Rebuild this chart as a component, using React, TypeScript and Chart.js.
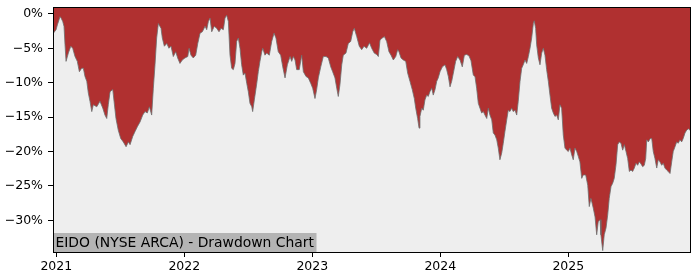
import { useEffect, useRef } from "react";
import { Chart, registerables } from "chart.js";

Chart.register(...registerables);

// Dates as decimal years
const dates: number[] = [
  2020.977, 2020.998, 2021.008, 2021.029, 2021.037, 2021.05, 2021.06, 2021.068, 2021.076, 2021.094,
  2021.113, 2021.128, 2021.146, 2021.164, 2021.18, 2021.198, 2021.211, 2021.224, 2021.238, 2021.25,
  2021.263, 2021.277, 2021.289, 2021.316, 2021.341, 2021.363, 2021.38, 2021.394, 2021.406, 2021.42,
  2021.441, 2021.451, 2021.466, 2021.484, 2021.503, 2021.523, 2021.545, 2021.563, 2021.576, 2021.597,
  2021.615, 2021.633, 2021.654, 2021.675, 2021.693, 2021.711, 2021.727, 2021.745, 2021.758, 2021.771,
  2021.784, 2021.797, 2021.802, 2021.818, 2021.828, 2021.844, 2021.863, 2021.88, 2021.896, 2021.914,
  2021.933, 2021.948, 2021.966, 2021.984, 2022.005, 2022.027, 2022.037, 2022.052, 2022.07, 2022.089,
  2022.105, 2022.123, 2022.141, 2022.162, 2022.175, 2022.188, 2022.201, 2022.214, 2022.234, 2022.253,
  2022.271, 2022.287, 2022.305, 2022.318, 2022.331, 2022.344, 2022.357, 2022.37, 2022.383, 2022.396,
  2022.409, 2022.422, 2022.435, 2022.448, 2022.461, 2022.474, 2022.488, 2022.5, 2022.513, 2022.527,
  2022.534, 2022.547, 2022.566, 2022.578, 2022.591, 2022.605, 2022.613, 2022.63, 2022.644, 2022.664,
  2022.683, 2022.701, 2022.716, 2022.734, 2022.753, 2022.769, 2022.787, 2022.805, 2022.826, 2022.839,
  2022.852, 2022.865, 2022.878, 2022.898, 2022.917, 2022.93, 2022.951, 2022.969, 2022.988, 2023.003,
  2023.021, 2023.034, 2023.047, 2023.066, 2023.086, 2023.107, 2023.125, 2023.144, 2023.159, 2023.177,
  2023.191, 2023.203, 2023.216, 2023.23, 2023.242, 2023.263, 2023.281, 2023.3, 2023.316, 2023.328,
  2023.347, 2023.367, 2023.386, 2023.404, 2023.425, 2023.447, 2023.464, 2023.484, 2023.503, 2023.516,
  2023.529, 2023.547, 2023.563, 2023.581, 2023.599, 2023.615, 2023.633, 2023.652, 2023.667, 2023.677,
  2023.693, 2023.711, 2023.73, 2023.745, 2023.763, 2023.781, 2023.797, 2023.808, 2023.823, 2023.834,
  2023.841, 2023.855, 2023.867, 2023.88, 2023.894, 2023.906, 2023.919, 2023.933, 2023.945, 2023.959,
  2023.972, 2023.984, 2023.998, 2024.016, 2024.037, 2024.05, 2024.063, 2024.076, 2024.089, 2024.102,
  2024.12, 2024.136, 2024.154, 2024.172, 2024.188, 2024.206, 2024.224, 2024.24, 2024.258, 2024.271,
  2024.284, 2024.297, 2024.31, 2024.323, 2024.336, 2024.349, 2024.363, 2024.375, 2024.388, 2024.402,
  2024.414, 2024.427, 2024.441, 2024.453, 2024.466, 2024.48, 2024.492, 2024.505, 2024.519, 2024.531,
  2024.544, 2024.558, 2024.57, 2024.584, 2024.597, 2024.609, 2024.623, 2024.636, 2024.648, 2024.662,
  2024.675, 2024.688, 2024.701, 2024.714, 2024.727, 2024.734, 2024.745, 2024.753, 2024.766, 2024.779,
  2024.792, 2024.805, 2024.818, 2024.831, 2024.844, 2024.857, 2024.87, 2024.883, 2024.896, 2024.909,
  2024.922, 2024.935, 2024.948, 2024.961, 2024.974, 2024.988, 2025.0, 2025.013, 2025.027, 2025.039,
  2025.052, 2025.066, 2025.078, 2025.091, 2025.105, 2025.117, 2025.136, 2025.152, 2025.164, 2025.177,
  2025.195, 2025.209, 2025.222, 2025.234, 2025.248, 2025.255, 2025.269, 2025.281, 2025.295, 2025.308,
  2025.32, 2025.334, 2025.347, 2025.359, 2025.373, 2025.386, 2025.398, 2025.412, 2025.425, 2025.438,
  2025.451, 2025.464, 2025.477, 2025.49, 2025.503, 2025.516, 2025.529, 2025.542, 2025.555, 2025.568,
  2025.581, 2025.594, 2025.605, 2025.613, 2025.625, 2025.641, 2025.652, 2025.664, 2025.677, 2025.691,
  2025.703, 2025.716, 2025.73, 2025.742, 2025.755, 2025.769, 2025.781, 2025.795, 2025.808, 2025.82,
  2025.834, 2025.847, 2025.859, 2025.873, 2025.886, 2025.898, 2025.912, 2025.925, 2025.938, 2025.951,
];

// Drawdown in percent
const drawdown: number[] = [
  -2.8, -2.3, -1.6, -0.4, -0.6, -1.1, -1.8, -4.5, -6.9, -5.7,
  -4.7, -5.0, -6.2, -6.9, -8.4, -7.9, -7.9, -9.1, -9.8, -11.5,
  -12.7, -14.2, -13.2, -13.5, -12.7, -13.7, -14.7, -15.2, -13.2, -11.3,
  -11.0, -12.7, -15.2, -16.9, -18.1, -18.6, -19.3, -18.6, -19.0, -17.8,
  -17.1, -16.4, -15.7, -14.7, -14.2, -14.4, -13.5, -14.7, -10.8, -7.4,
  -3.5, -1.4, -1.4, -2.1, -3.5, -4.7, -4.3, -5.0, -4.7, -6.2,
  -5.5, -6.4, -7.2, -6.7, -6.4, -6.2, -5.0, -6.0, -6.4, -6.0,
  -4.3, -2.8, -2.6, -1.8, -2.3, -1.1, -0.6, -2.6, -1.8, -2.1,
  -2.6, -2.1, -2.3, -0.6, -0.2, -1.1, -6.0, -7.9, -8.1, -7.2,
  -4.0, -3.5, -5.0, -7.4, -8.9, -8.6, -10.1, -11.3, -13.0, -13.5,
  -14.2, -12.5, -10.1, -8.4, -6.9, -5.5, -5.0, -6.0, -5.7, -6.0,
  -4.0, -2.8, -3.5, -5.5, -6.0, -7.7, -9.3, -7.4, -6.2, -6.9,
  -6.2, -6.7, -8.1, -8.1, -6.0, -8.4, -9.1, -9.3, -10.1, -10.8,
  -12.3, -11.0, -9.3, -7.7, -6.2, -6.2, -6.4, -7.7, -8.4, -9.3,
  -10.8, -12.0, -10.3, -7.4, -6.0, -5.7, -4.3, -4.0, -2.6, -2.1,
  -3.3, -4.7, -5.2, -4.7, -5.0, -4.2, -5.0, -5.7, -5.9, -6.2,
  -3.8, -3.5, -3.3, -4.0, -5.5, -6.0, -6.7, -6.2, -5.2, -5.5,
  -6.4, -6.7, -6.9, -8.6, -9.8, -11.0, -12.3, -13.7, -15.2, -16.6,
  -14.9, -13.7, -14.0, -12.5, -11.8, -12.0, -11.3, -10.8, -11.8, -11.0,
  -9.8, -9.3, -8.4, -7.7, -7.4, -8.1, -9.1, -10.6, -9.8, -8.6,
  -6.9, -6.2, -6.7, -7.7, -6.0, -5.9, -6.1, -6.8, -8.9, -9.1,
  -10.8, -13.0, -13.7, -14.4, -14.2, -14.7, -15.2, -13.7, -14.7, -15.4,
  -17.3, -17.6, -18.3, -19.5, -21.2, -20.2, -18.8, -17.1, -15.4, -14.0,
  -14.2, -13.7, -14.2, -14.0, -14.7, -12.7, -9.8, -7.9, -7.4, -6.7,
  -7.2, -6.2, -5.0, -3.5, -1.4, -1.0, -2.1, -4.5, -6.4, -7.4,
  -5.7, -5.0, -6.0, -8.1, -9.8, -11.8, -13.7, -14.4, -14.9, -14.7,
  -15.4, -13.2, -13.7, -17.6, -19.5, -19.8, -20.0, -19.5, -20.5, -21.2,
  -19.5, -20.0, -20.7, -21.5, -23.9, -23.4, -23.4, -24.9, -28.0, -26.8,
  -28.2, -29.5, -32.1, -30.2, -29.9, -32.1, -34.4, -32.1, -31.1, -29.2,
  -26.8, -25.1, -24.6, -23.9, -21.9, -19.0, -18.6, -18.8, -19.8, -19.0,
  -20.0, -21.0, -22.9, -22.7, -22.9, -22.4, -21.7, -22.0, -21.5, -21.8,
  -22.2, -22.0, -21.0, -18.3, -18.6, -18.1, -18.1, -20.0, -21.0, -22.4,
  -21.2, -21.5, -22.0, -21.7, -22.4, -22.7, -22.9, -23.2, -21.5, -20.0,
  -19.3, -18.6, -18.8, -18.3, -18.6, -18.1, -17.3, -16.9, -16.7, -16.9,
];

const xTicks: number[] = [2021, 2022, 2023, 2024, 2025];
const yTicks: number[] = [0, -5, -10, -15, -20, -25, -30];
const chartLabel = "EIDO (NYSE ARCA) - Drawdown Chart";

const FONT = "'DejaVu Sans', 'Liberation Sans', sans-serif";

export default function App() {
  const ref = useRef<HTMLCanvasElement>(null);

  useEffect(() => {
    if (!ref.current) return;
    const framePlugin = {
      id: "frame",
      beforeDraw(chart: any) {
        const { ctx, chartArea: a } = chart;
        ctx.save();
        ctx.fillStyle = "#ffffff";
        ctx.fillRect(0, 0, chart.width, chart.height);
        ctx.fillStyle = "#eeeeee";
        ctx.fillRect(a.left, a.top, a.right - a.left, a.bottom - a.top);
        ctx.restore();
      },
      afterDatasetsDraw(chart: any) {
        const { ctx, chartArea: a } = chart;
        ctx.save();
        // label box
        ctx.font = `13.9px ${FONT}`;
        const w = ctx.measureText(chartLabel).width;
        const boxH = 19;
        ctx.fillStyle = "#b4b4b4";
        ctx.fillRect(a.left, a.bottom - boxH, w + 5, boxH);
        ctx.fillStyle = "#000000";
        ctx.textBaseline = "alphabetic";
        ctx.textAlign = "left";
        ctx.fillText(chartLabel, a.left + 2.5, a.bottom - 5);
        // frame
        ctx.strokeStyle = "#000000";
        ctx.lineWidth = 1;
        ctx.strokeRect(a.left + 0.5, a.top + 0.5, a.right - a.left, a.bottom - a.top);
        ctx.restore();
      },
    };

    const chart = new Chart(ref.current, {
      type: "line",
      data: {
        datasets: [
          {
            data: dates.map((d, i) => ({ x: d, y: drawdown[i] })),
            fill: "end",
            backgroundColor: "rgb(176,48,48)",
            borderColor: "rgba(110,110,110,0.8)",
            borderWidth: 1,
            pointRadius: 0,
            tension: 0,
          },
        ],
      },
      options: {
        animation: false,
        responsive: false,
        devicePixelRatio: 1,
        layout: { padding: { top: 7, right: 10, left: 0, bottom: 0 } },
        plugins: { legend: { display: false }, tooltip: { enabled: false } },
        scales: {
          x: {
            type: "linear",
            min: 2020.974,
            max: 2025.951,
            afterBuildTicks: (scale: any) => {
              scale.ticks = xTicks.map((v) => ({ value: v }));
            },
            afterFit: (scale: any) => {
              scale.height = 28;
              scale.paddingLeft = 0;
              scale.paddingRight = 0;
            },
            grid: { drawOnChartArea: false, drawTicks: true, tickLength: 5, color: "#000000" },
            border: { display: false },
            ticks: {
              color: "#000000",
              font: { family: FONT, size: 12.5 },
              padding: 2,
              maxRotation: 0,
              autoSkip: false,
              callback: (v: any) => String(v),
            },
          },
          y: {
            type: "linear",
            min: -34.6,
            max: 1.0,
            afterBuildTicks: (scale: any) => {
              scale.ticks = yTicks.map((v) => ({ value: v }));
            },
            afterFit: (scale: any) => {
              scale.width = 53;
              scale.paddingTop = 0;
              scale.paddingBottom = 0;
            },
            grid: { drawOnChartArea: false, drawTicks: true, tickLength: 5, color: "#000000" },
            border: { display: false },
            ticks: {
              color: "#000000",
              font: { family: FONT, size: 12.5 },
              padding: 5,
              autoSkip: false,
              callback: (v: any) => (Number(v) === 0 ? "0%" : "\u2212" + Math.abs(Number(v)) + "%"),
            },
          },
        },
      },
      plugins: [framePlugin],
    });
    return () => chart.destroy();
  }, []);

  return (
    <div style={{ position: "absolute", left: 0, top: 0, width: 700, height: 280, background: "#ffffff" }}>
      <canvas ref={ref} width={700} height={280} style={{ display: "block" }} />
    </div>
  );
}
